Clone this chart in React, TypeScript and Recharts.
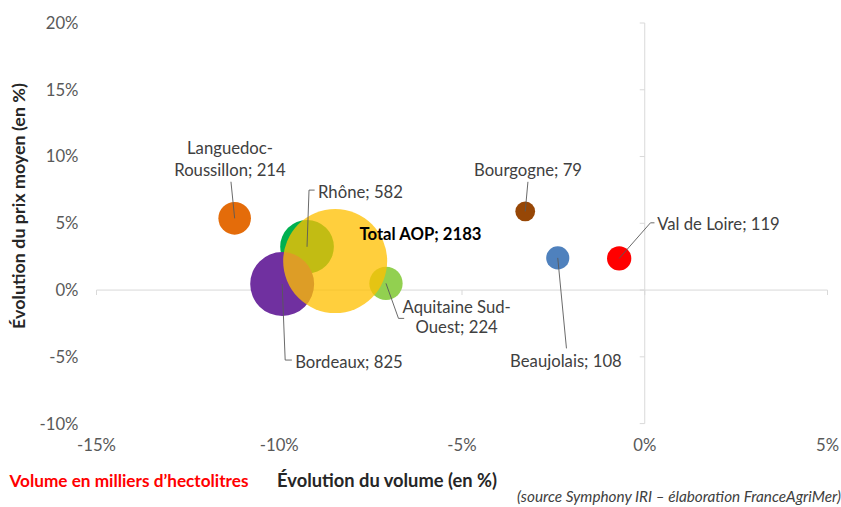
import React from 'react';
import { ScatterChart, Scatter, XAxis, YAxis, ZAxis, ReferenceLine, Cell } from 'recharts';

// bassins, ordre de tracé (Total AOP au-dessus)
const regions = [
  'Languedoc-Roussillon',
  'Rhône',
  'Bordeaux',
  'Aquitaine Sud-Ouest',
  'Bourgogne',
  'Beaujolais',
  'Val de Loire',
  'Total AOP',
];
const volumeChange = [-11.22, -9.24, -9.92, -7.08, -3.27, -2.38, -0.7, -8.47];
const priceChange = [5.37, 3.24, 0.45, 0.5, 5.89, 2.41, 2.37, 2.17];
const volumes = [214, 582, 825, 224, 79, 108, 119, 2183];

const xTicks = [-15, -10, -5, 0, 5];
const yTicks = [-10, -5, 0, 5, 10, 15, 20];

const colors = ['#E46C0A', '#00B050', '#7030A0', '#92D050', '#974706', '#4F81BD', '#FF0000', '#FFC000'];
const opacities = [1, 1, 1, 1, 1, 1, 1, 0.76];

const data = regions.map((name, i) => ({ name, x: volumeChange[i], y: priceChange[i], z: volumes[i] }));

const FONT = 'Lato, "Open Sans", sans-serif';
const TEXT = '#404040';
const LABEL_SIZE = 16.7;

// placement des étiquettes, relatif au centre de la bulle (px)
type LabelLayout = {
  lines: string[];
  anchor: 'start' | 'middle';
  tx: number;
  ty: number[];
  leader?: [number, number][];
  bold?: boolean;
};
const labelLayout: Record<string, LabelLayout> = {
  'Languedoc-Roussillon': { lines: ['Languedoc-', 'Roussillon; 214'], anchor: 'middle', tx: -4.7, ty: [-70, -48], leader: [[0, 0], [-3.7, -36.6]] },
  'Rhône': { lines: ['Rhône; 582'], anchor: 'start', tx: 11, ty: [-55], leader: [[0, 0], [2, -56.7], [7.6, -56.7]] },
  'Bordeaux': { lines: ['Bordeaux; 825'], anchor: 'start', tx: 13, ty: [77.7], leader: [[0, 0], [3, 76], [9.7, 76]] },
  'Aquitaine Sud-Ouest': { lines: ['Aquitaine Sud-', 'Ouest; 224'], anchor: 'middle', tx: 70.7, ty: [23.4, 43.7], leader: [[0, 0], [12.5, 35], [18.2, 35]] },
  'Bourgogne': { lines: ['Bourgogne; 79'], anchor: 'middle', tx: 2.8, ty: [-41.3], leader: [[0, 0], [2.7, -29.6]] },
  'Beaujolais': { lines: ['Beaujolais; 108'], anchor: 'middle', tx: 8.2, ty: [103], leader: [[0, 0], [8.7, 90.5]] },
  'Val de Loire': { lines: ['Val de Loire; 119'], anchor: 'start', tx: 38, ty: [-34.3], leader: [[0, 0], [31.3, -35.6], [35.3, -35.6]] },
  'Total AOP': { lines: ['Total AOP; 2183'], anchor: 'start', tx: 24.3, ty: [-26.7], bold: true },
};

const renderLabel = (props: any) => {
  const { cx, cy, payload } = props;
  const l = labelLayout[payload.name];
  if (!l) return <g />;
  return (
    <g>
      {l.leader && (
        <polyline
          points={l.leader.map(([dx, dy]) => `${cx + dx},${cy + dy}`).join(' ')}
          fill="none"
          stroke="#595959"
          strokeWidth={0.9}
        />
      )}
      {l.lines.map((line, i) => (
        <text
          key={i}
          x={cx + l.tx}
          y={cy + l.ty[i]}
          textAnchor={l.anchor}
          dominantBaseline="central"
          fontFamily={FONT}
          fontSize={LABEL_SIZE}
          fontWeight={l.bold ? 700 : 400}
          fill={l.bold ? '#000' : TEXT}
        >
          {line}
        </text>
      ))}
    </g>
  );
};

export default function App() {
  return (
    <div style={{ position: 'absolute', left: 0, top: 0, width: 841, height: 507, background: '#fff' }}>
      <ScatterChart width={841} height={507} margin={{ top: 23, right: 13.5, bottom: 53.4, left: 36.5 }}>
        <XAxis
          type="number"
          dataKey="x"
          domain={[-15, 5]}
          ticks={xTicks}
          tickFormatter={(v) => `${v}%`}
          axisLine={false}
          tickLine={false}
          tickSize={0}
          tickMargin={16}
          height={30}
          tick={{ fill: '#595959', fontSize: 16.7, fontFamily: FONT }}
          allowDataOverflow
        />
        <YAxis
          type="number"
          dataKey="y"
          domain={[-10, 20]}
          ticks={yTicks}
          tickFormatter={(v) => `${v}%`}
          axisLine={false}
          tickLine={false}
          tickSize={0}
          tickMargin={18}
          width={60}
          tick={{ fill: '#595959', fontSize: 16.7, fontFamily: FONT }}
          allowDataOverflow
        />
        <ZAxis type="number" dataKey="z" domain={[0, 'dataMax']} range={[0, Math.PI * 52 * 52]} />
        <ReferenceLine y={0} stroke="#D9D9D9" strokeWidth={1} />
        <ReferenceLine x={0} stroke="#D9D9D9" strokeWidth={1} />
        {xTicks.map((t) => (
          <ReferenceLine key={'xt' + t} segment={[{ x: t, y: 0 }, { x: t, y: -0.37 }]} stroke="#D9D9D9" />
        ))}
        {yTicks.map((t) => (
          <ReferenceLine key={'yt' + t} segment={[{ x: 0, y: t }, { x: -0.137, y: t }]} stroke="#D9D9D9" />
        ))}
        <Scatter data={data} isAnimationActive={false}>
          {data.map((d, i) => (
            <Cell key={d.name} fill={colors[i]} fillOpacity={opacities[i]} />
          ))}
        </Scatter>
        <Scatter data={data} isAnimationActive={false} shape={renderLabel} legendType="none" />
      </ScatterChart>
      <svg width={841} height={507} style={{ position: 'absolute', left: 0, top: 0, pointerEvents: 'none' }}>
        <text
          x={17.5}
          y={206}
          transform="rotate(-90 17.5 206)"
          textAnchor="middle"
          dominantBaseline="central"
          fontFamily={FONT}
          fontSize={17.9}
          fontWeight={700}
          fill="#262626"
        >
          Évolution du prix moyen (en %)
        </text>
        <text x={129} y={480} textAnchor="middle" dominantBaseline="central" fontFamily={FONT} fontSize={17.2} fontWeight={700} fill="#FF0000">
          Volume en milliers d’hectolitres
        </text>
        <text x={387} y={480} textAnchor="middle" dominantBaseline="central" fontFamily={FONT} fontSize={18.3} fontWeight={700} fill="#262626">
          Évolution du volume (en %)
        </text>
        <text x={517} y={496} textAnchor="start" dominantBaseline="central" fontFamily={FONT} fontSize={15.3} fontStyle="italic" fill={TEXT}>
          (source Symphony IRI – élaboration FranceAgriMer)
        </text>
      </svg>
    </div>
  );
}
